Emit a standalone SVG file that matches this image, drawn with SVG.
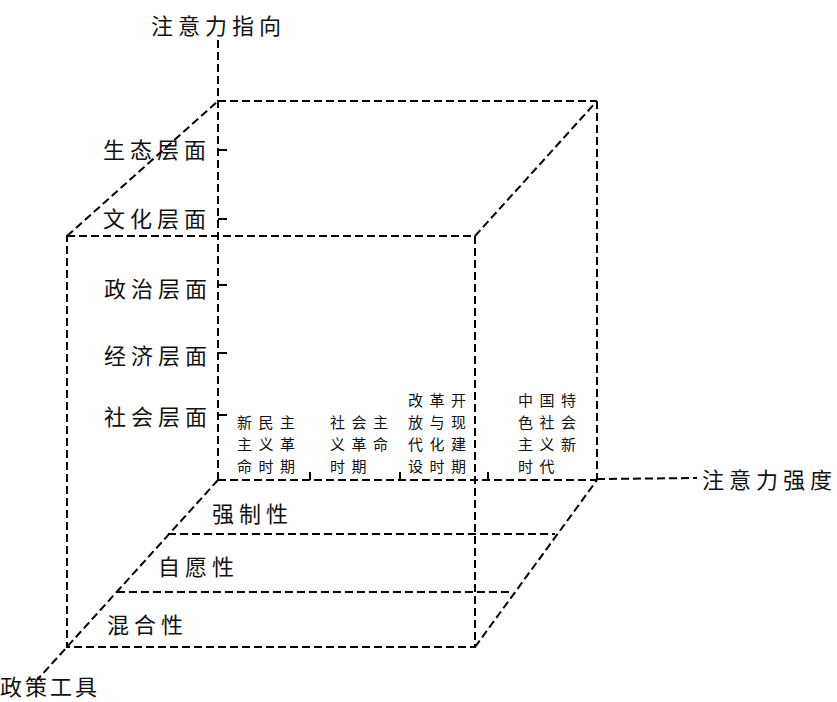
<svg xmlns="http://www.w3.org/2000/svg" width="837" height="702" viewBox="0 0 837 702">
<style>
.d{stroke:#000;stroke-width:2;stroke-dasharray:8 4;fill:none}
.t{stroke:#000;stroke-width:2;fill:none}
.L{font-family:"Noto Sans CJK SC","Noto Sans",sans-serif;font-size:22px;letter-spacing:5px;fill:#111;dominant-baseline:central}
.P{font-family:"Noto Sans CJK SC","Noto Sans",sans-serif;font-size:15px;letter-spacing:6.5px;fill:#111;dominant-baseline:central}
</style>
<rect width="837" height="702" fill="#fff"/>
<g id="connectors">
<line class="d" x1="218" y1="40" x2="218" y2="480"/>
<line class="d" x1="218" y1="101" x2="597" y2="101"/>
<line class="d" x1="597" y1="101" x2="597" y2="480"/>
<line class="d" x1="218" y1="480" x2="597" y2="480"/>
<line class="d" x1="597" y1="479" x2="697" y2="478"/>
<line class="d" x1="67" y1="236" x2="218" y2="101"/>
<line class="d" x1="475" y1="236" x2="597" y2="101"/>
<line class="d" x1="475" y1="647" x2="597" y2="480"/>
<line class="d" x1="218" y1="480" x2="38" y2="679"/>
<rect class="d" x="67" y="236" width="408" height="411"/>
<line class="d" x1="168" y1="534" x2="555" y2="534"/>
<line class="d" x1="117" y1="592" x2="513" y2="592"/>
<path class="t" d="M218 150H227M218 219H227M218 285H227M218 353H227M218 415H227M310 480V472M400 480V472M488 480V472"/>
</g>
<g id="axis-attention-direction"><text class="L" x="151" y="24">注意力指向</text></g>
<g id="axis-attention-intensity"><text class="L" x="702" y="478">注意力强度</text></g>
<g id="axis-policy-tools"><text class="L" x="0" y="685" style="letter-spacing:3px">政策工具</text></g>
<g id="level-ecology"><text class="L" x="103" y="148">生态层面</text></g>
<g id="level-culture"><text class="L" x="103" y="217">文化层面</text></g>
<g id="level-politics"><text class="L" x="104" y="287">政治层面</text></g>
<g id="level-economy"><text class="L" x="104" y="354">经济层面</text></g>
<g id="level-society"><text class="L" x="104" y="415">社会层面</text></g>
<g id="period-1"><text class="P" x="237"><tspan x="237" y="421">新民主</tspan><tspan x="237" y="443">主义革</tspan><tspan x="237" y="465">命时期</tspan></text></g>
<g id="period-2"><text class="P" x="330"><tspan x="330" y="421">社会主</tspan><tspan x="330" y="443">义革命</tspan><tspan x="330" y="465">时期</tspan></text></g>
<g id="period-3"><text class="P" x="408"><tspan x="408" y="399">改革开</tspan><tspan x="408" y="421">放与现</tspan><tspan x="408" y="443">代化建</tspan><tspan x="408" y="465">设时期</tspan></text></g>
<g id="period-4"><text class="P" x="518"><tspan x="518" y="399">中国特</tspan><tspan x="518" y="421">色社会</tspan><tspan x="518" y="443">主义新</tspan><tspan x="518" y="465">时代</tspan></text></g>
<g id="tool-mandatory"><text class="L" x="212" y="512">强制性</text></g>
<g id="tool-voluntary"><text class="L" x="158" y="565">自愿性</text></g>
<g id="tool-mixed"><text class="L" x="107" y="623">混合性</text></g>
</svg>
